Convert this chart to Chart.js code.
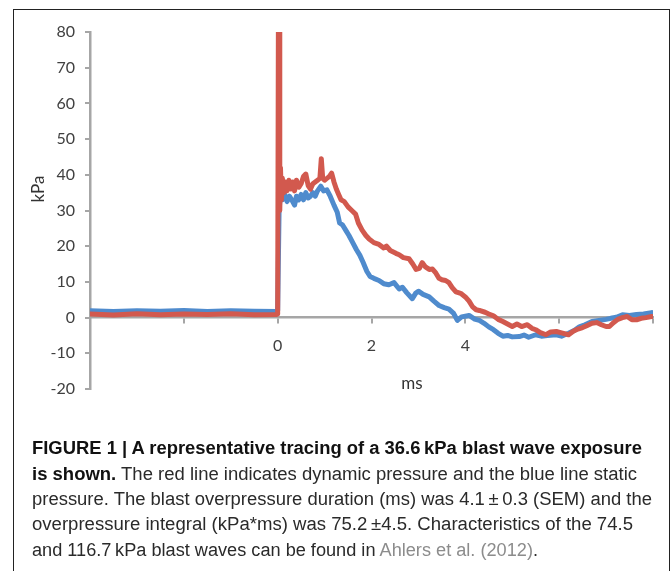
<!DOCTYPE html>
<html>
<head>
<meta charset="utf-8">
<script src="https://cdn.jsdelivr.net/npm/chart.js@4.4.0/dist/chart.umd.min.js"></script>
<style>
  body { margin: 0; background: #fff; width: 671px; height: 571px; overflow: hidden; position: relative; }
  #chart { position: absolute; left: 0; top: 0; }
  #frame { position: absolute; left: 13px; top: 9px; width: 655px; height: 620px; border: 1.5px solid #222; pointer-events: none; }
  .axis-title { position: absolute; font-family: Lato, "Open Sans", sans-serif; font-size: 17px; color: #333; white-space: nowrap; }
  #ytitle { left: 37px; top: 189px; transform: translate(-50%, -50%) rotate(-90deg); }
  #xtitle { left: 412px; top: 382px; transform: translate(-50%, -50%); }
  .cap { position: absolute; left: 32px; font-family: "Liberation Sans Narrow", "Liberation Sans", sans-serif; font-size: 18px; color: #2a2a2a; white-space: nowrap; transform-origin: 0 50%; line-height: 20px; }
  .cap b { color: #111; }
  .ref { color: #8c8c8c; }
</style>
</head>
<body>
<canvas id="chart" width="671" height="420"></canvas>
<div id="frame"></div>
<div class="axis-title" id="ytitle">kPa</div>
<div class="axis-title" id="xtitle">ms</div>
<div class="cap" data-w="610" style="top:438px"><b>FIGURE 1 | A representative tracing of a 36.6&#8201;kPa blast wave exposure</b></div>
<div class="cap" data-w="605" style="top:464px"><b>is shown.</b> The red line indicates dynamic pressure and the blue line static</div>
<div class="cap" data-w="620" style="top:489px">pressure. The blast overpressure duration (ms) was 4.1&#8201;±&#8201;0.3 (SEM) and the</div>
<div class="cap" data-w="601" style="top:514px">overpressure integral (kPa*ms) was 75.2&#8201;±4.5. Characteristics of the 74.5</div>
<div class="cap" data-w="506" style="top:540px">and 116.7&#8201;kPa blast waves can be found in <span class="ref">Ahlers et al. (2012)</span>.</div>
<script>
// x tick labels shown by the original axis
const xLabels = [0, 2, 4];

// static pressure (blue), time in ms / kPa
const blueTime = [-4.0, -3.5, -3.0, -2.5, -2.0, -1.5, -1.0, -0.5, -0.02,
  0.0, 0.03, 0.06, 0.1, 0.15, 0.2, 0.25, 0.3, 0.36, 0.4, 0.45, 0.5, 0.55, 0.6, 0.65, 0.7, 0.75, 0.8, 0.85, 0.92, 0.98,
  1.05, 1.12, 1.2, 1.27, 1.32, 1.38, 1.45, 1.52, 1.6, 1.68, 1.75, 1.82, 1.9, 1.97,
  2.05, 2.16, 2.26, 2.37, 2.48, 2.59, 2.66, 2.75, 2.87, 2.94, 3.0, 3.1, 3.23, 3.33, 3.44, 3.55, 3.65, 3.75, 3.83, 3.92,
  4.0, 4.08, 4.2, 4.3, 4.4, 4.5, 4.6, 4.7, 4.8, 4.9, 5.0, 5.15, 5.25, 5.35, 5.5, 5.62, 5.75, 5.94, 6.05, 6.2,
  6.32, 6.43, 6.55, 6.7, 6.85, 7.0, 7.1, 7.22, 7.35, 7.5, 7.65, 7.8, 7.97];
const blueKpa = [1.9, 1.7, 1.9, 1.8, 2.0, 1.7, 1.9, 1.8, 1.7,
  2.0, 30, 35, 33, 34.5, 32.5, 34, 33, 31.5, 34, 33, 34.5, 33, 35, 33.5, 34, 35, 34, 35.5, 36.8, 35.5,
  35.8, 34, 31.5, 29.5, 26.5, 26, 24.5, 23, 21, 19, 17.5, 15.5, 13, 11.5,
  11, 10.4, 9.5, 9.2, 9.8, 8, 8.5, 7, 5.3, 6.8, 7.4, 6.5, 5.8, 4.6, 3.4, 2.8, 2.4, 1.2, -0.8, 0.2,
  0.4, 0.6, -0.4, -0.8, -1.6, -2.6, -3.4, -4.4, -5.2, -5.0, -5.4, -5.3, -4.9, -5.5, -4.8, -5.2, -5.0, -4.8, -5.2, -4.4,
  -3.6, -2.6, -2.0, -1.1, -0.8, -0.5, -0.2, 0.1, 0.8, 0.6, 0.9, 1.0, 1.4];

// dynamic pressure (red), time in ms / kPa
const redTime = [-4.0, -3.5, -3.0, -2.5, -2.0, -1.5, -1.0, -0.5, -0.02,
  0.0, 0.015, 0.03, 0.045, 0.06, 0.08, 0.1, 0.13, 0.16, 0.2, 0.24, 0.28, 0.32, 0.36, 0.4, 0.45, 0.5, 0.55, 0.6, 0.65, 0.7,
  0.75, 0.8, 0.85, 0.9, 0.93, 0.96, 1.0, 1.05, 1.1, 1.15, 1.2, 1.25, 1.3, 1.35, 1.42, 1.5, 1.58, 1.66, 1.72, 1.8, 1.88, 1.95,
  2.05, 2.16, 2.26, 2.32, 2.4, 2.52, 2.59, 2.68, 2.8, 2.88, 2.95, 3.02, 3.08, 3.15, 3.23, 3.3, 3.37, 3.44, 3.5, 3.58, 3.65, 3.72, 3.8, 3.9,
  4.0, 4.08, 4.15, 4.23, 4.3, 4.42, 4.5, 4.6, 4.7, 4.8, 4.9, 5.0, 5.1, 5.2, 5.32, 5.42, 5.5, 5.6, 5.72, 5.82, 5.94, 6.05, 6.2,
  6.3, 6.4, 6.5, 6.6, 6.7, 6.8, 6.9, 7.0, 7.07, 7.15, 7.25, 7.35, 7.45, 7.55, 7.65, 7.75, 7.85, 7.97];
const redKpa = [1.0, 0.7, 1.1, 0.8, 1.0, 0.9, 1.1, 0.8, 0.9,
  1.0, 80, 80, 30, 42, 33, 39, 35, 38, 35.5, 38.5, 36, 38, 35.5, 38.5, 36.5, 37.5, 39.5, 40.2, 37, 36,
  37.5, 38, 38.5, 39, 44.5, 39, 38.5, 39, 39.5, 40.5, 38, 36, 34.5, 33, 32.5, 31, 30, 29, 26.5, 24.5, 23, 22,
  21, 20.5, 19.5, 20, 18.8, 18, 17.6, 16.8, 16.5, 15, 13.5, 13.8, 15.4, 14.2, 13.5, 13.6, 12.5, 11, 10.6, 10.4, 9.8, 8.4, 7.2, 6.8,
  5.8, 4.6, 3.1, 2.2, 2.0, 1.5, 1.0, 0.5, -0.5, -1.1, -1.8, -2.5, -1.8, -2.5, -2.0, -3.0, -3.4, -4.2, -4.8, -4.0, -3.9, -4.3, -4.8,
  -3.8, -3.2, -2.8, -2.2, -1.6, -1.4, -2.0, -2.5, -2.5, -1.5, -0.5, 0.0, 0.3, -0.6, -0.6, -0.2, 0.0, 0.3];

const axisGrey = '#a6a6a6';
const tickFont = { family: 'Lato, "Open Sans", sans-serif', size: 16 };

const toPoints = (ts, vs) => ts.map((t, i) => ({ x: t, y: vs[i] }));

new Chart(document.getElementById('chart'), {
  type: 'line',
  data: {
    datasets: [
      {
        label: 'Dynamic pressure',
        data: toPoints(redTime, redKpa),
        borderColor: '#d2594e',
        borderWidth: 5,
        pointRadius: 0,
        tension: 0,
        borderJoinStyle: 'round',
        borderCapStyle: 'round'
      },
      {
        label: 'Static pressure',
        data: toPoints(blueTime, blueKpa),
        borderColor: '#4f8bcd',
        borderWidth: 5,
        pointRadius: 0,
        tension: 0,
        borderJoinStyle: 'round',
        borderCapStyle: 'round'
      }
    ]
  },
  options: {
    responsive: false,
    animation: false,
    layout: { padding: { left: 0, top: 32, right: 18, bottom: 31 } },
    plugins: {
      legend: { display: false },
      tooltip: { enabled: false }
    },
    scales: {
      x: {
        type: 'linear',
        min: -4,
        max: 8,
        position: { y: 0 },
        ticks: {
          stepSize: 2,
          padding: 14,
          color: '#404040',
          font: tickFont,
          maxRotation: 0,
          callback: v => xLabels.includes(v) ? String(v) : ''
        },
        grid: { drawOnChartArea: false, tickLength: 5, color: axisGrey, lineWidth: 2 },
        border: { color: axisGrey, width: 2.5 }
      },
      y: {
        min: -20,
        max: 80,
        afterFit: s => { s.width = 90; },
        ticks: { stepSize: 10, padding: 10, color: '#404040', font: tickFont },
        grid: { drawOnChartArea: false, tickLength: 5, color: axisGrey, lineWidth: 2 },
        border: { color: axisGrey, width: 2.5 }
      }
    }
  }
});

// fit caption lines to the widths seen in the figure
document.querySelectorAll('.cap').forEach(el => {
  const w = el.getBoundingClientRect().width;
  const target = parseFloat(el.dataset.w);
  el.style.transform = 'scaleX(' + (target / w) + ')';
});
</script>
</body>
</html>
